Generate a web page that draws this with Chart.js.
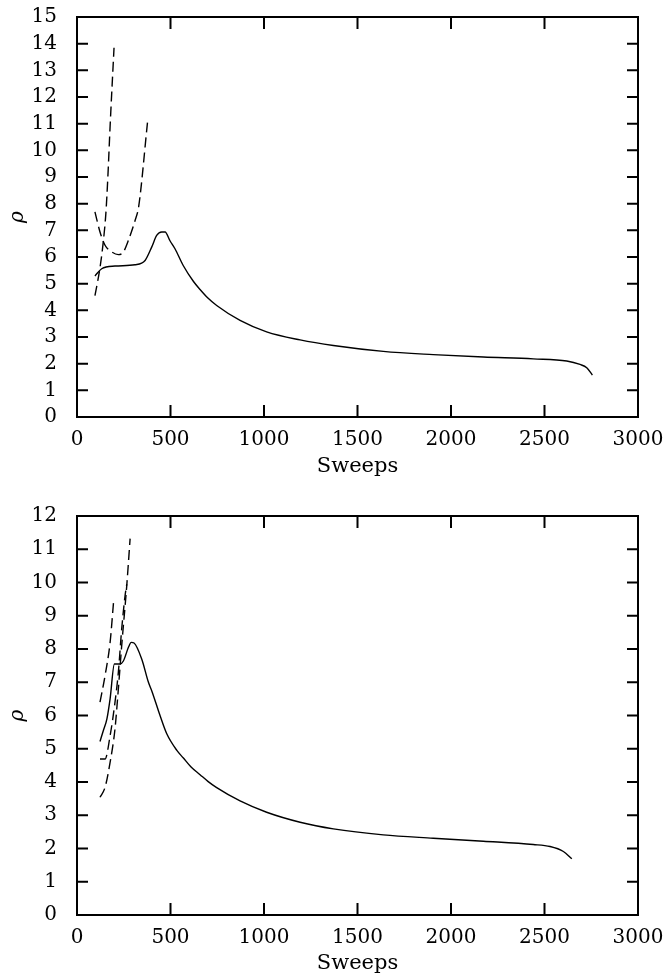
<!DOCTYPE html>
<html>
<head>
<meta charset="utf-8">
<script src="https://cdn.jsdelivr.net/npm/chart.js@4"></script>
<style>
  body { margin: 0; background: #fff; }
  canvas { display: block; }
</style>
</head>
<body>
<canvas id="top" width="668" height="488"></canvas>
<canvas id="bottom" width="668" height="489"></canvas>
<script>
// -------------------------
// Data
// -------------------------

// ticks
const sweepTicks = [0, 500, 1000, 1500, 2000, 2500, 3000];
const rhoTicksTop = [0, 1, 2, 3, 4, 5, 6, 7, 8, 9, 10, 11, 12, 13, 14, 15];
const rhoTicksBottom = [0, 1, 2, 3, 4, 5, 6, 7, 8, 9, 10, 11, 12];

// top panel, solid line
const topSolidSweeps = [96, 132, 203, 310, 364, 400, 426, 453, 471, 498, 524, 568, 623, 658, 700, 747, 872, 1014, 1193, 1371, 1638, 1905, 2173, 2440, 2619, 2690, 2726, 2756];
const topSolidRho = [5.29, 5.56, 5.66, 5.71, 5.87, 6.38, 6.81, 6.94, 6.94, 6.6, 6.31, 5.68, 5.08, 4.78, 4.46, 4.18, 3.62, 3.19, 2.89, 2.68, 2.46, 2.34, 2.25, 2.18, 2.1, 1.97, 1.85, 1.57];

// top panel, dashed lines
const topDashASweeps = [96, 123, 141, 154, 165, 177, 198];
const topDashARho = [4.55, 5.6, 6.6, 7.6, 9.0, 10.9, 13.85];
const topDashBSweeps = [96, 123, 150, 186, 221, 248, 275, 311, 330, 377];
const topDashBRho = [7.69, 6.94, 6.44, 6.19, 6.09, 6.19, 6.63, 7.38, 7.9, 11.05];

// bottom panel, solid line
const botSolidSweeps = [123, 141, 160, 177, 200, 230, 248, 275, 290, 305, 346, 382, 400, 444, 480, 534, 569, 610, 658, 700, 747, 872, 1014, 1193, 1371, 1638, 1905, 2173, 2440, 2530, 2601, 2646];
const botSolidRho = [5.22, 5.55, 5.9, 6.5, 7.55, 7.55, 7.64, 8.05, 8.2, 8.18, 7.7, 7.0, 6.74, 6.0, 5.45, 4.95, 4.72, 4.45, 4.22, 4.02, 3.83, 3.43, 3.09, 2.79, 2.59, 2.41, 2.31, 2.22, 2.12, 2.06, 1.91, 1.69];

// bottom panel, dashed lines
const botDashCSweeps = [123, 150, 177, 196];
const botDashCRho = [6.4, 7.2, 8.2, 9.45];
const botDashDSweeps = [123, 150, 177, 203, 221, 239, 257, 266];
const botDashDRho = [4.69, 4.69, 5.39, 6.39, 7.29, 8.6, 9.6, 9.95];
const botDashESweeps = [123, 150, 177, 203, 221, 239, 266, 284];
const botDashERho = [3.54, 3.84, 4.59, 5.59, 6.79, 8.1, 9.9, 11.32];

// -------------------------

const toPoints = (xs, ys) => xs.map((x, i) => ({ x: x, y: ys[i] }));

function line(xs, ys, dashed) {
  return {
    data: toPoints(xs, ys),
    showLine: true,
    borderColor: "#000",
    borderWidth: 1.4,
    borderDash: dashed ? [10, 5] : [],
    pointRadius: 0,
    cubicInterpolationMode: "monotone",
    fill: false,
  };
}

// ticks inside the frame on all four sides, plus the frame
const frameTicks = {
  id: "frameTicks",
  afterDraw(chart) {
    const { ctx, chartArea: a, scales } = chart;
    ctx.save();
    ctx.strokeStyle = "#000";
    ctx.lineWidth = 2;
    ctx.strokeRect(a.left, a.top, a.right - a.left, a.bottom - a.top);
    ctx.beginPath();
    scales.x.ticks.forEach((t) => {
      const px = scales.x.getPixelForValue(t.value);
      ctx.moveTo(px, a.bottom); ctx.lineTo(px, a.bottom - 12);
      ctx.moveTo(px, a.top); ctx.lineTo(px, a.top + 12);
    });
    scales.y.ticks.forEach((t) => {
      const py = scales.y.getPixelForValue(t.value);
      ctx.moveTo(a.left, py); ctx.lineTo(a.left + 11, py);
      ctx.moveTo(a.right, py); ctx.lineTo(a.right - 11, py);
    });
    ctx.stroke();
    ctx.restore();
  },
};

// layout padding alone decides where the plot box sits
function noScalePadding(s) {
  s.paddingTop = 0;
  s.paddingBottom = 0;
  s.paddingLeft = 0;
  s.paddingRight = 0;
}

function makeChart(id, datasets, yTicks, padTop, xHeight, titleBottom) {
  const ctx = document.getElementById(id).getContext("2d");
  return new Chart(ctx, {
    type: "scatter",
    data: { datasets: datasets },
    plugins: [frameTicks],
    options: {
      responsive: false,
      animation: false,
      layout: { padding: { left: 0, right: 30, top: padTop, bottom: 0 } },
      plugins: { legend: { display: false }, tooltip: { enabled: false } },
      scales: {
        x: {
          type: "linear",
          min: 0,
          max: 3000,
          afterBuildTicks: (s) => { s.ticks = sweepTicks.map((v) => ({ value: v })); },
          afterFit: (s) => { s.height = xHeight; noScalePadding(s); },
          grid: { display: false, drawTicks: false },
          border: { display: false },
          ticks: {
            color: "#000",
            padding: 11,
            maxRotation: 0,
            autoSkip: false,
            callback: (v) => String(v),
            font: { family: "DejaVu Serif", size: 20 },
          },
          title: {
            display: true,
            text: "Sweeps",
            color: "#000",
            padding: { top: 0, bottom: titleBottom },
            font: { family: "DejaVu Serif", size: 21 },
          },
        },
        y: {
          type: "linear",
          min: 0,
          max: yTicks[yTicks.length - 1],
          afterBuildTicks: (s) => { s.ticks = yTicks.map((v) => ({ value: v })); },
          afterFit: (s) => { s.width = 77; noScalePadding(s); },
          grid: { display: false, drawTicks: false },
          border: { display: false },
          ticks: {
            color: "#000",
            padding: 20,
            autoSkip: false,
            callback: (v) => String(v),
            font: { family: "DejaVu Serif", size: 20 },
          },
          title: {
            display: true,
            text: "ρ",
            color: "#000",
            padding: { top: 6, bottom: 0 },
            font: { family: "DejaVu Serif", size: 20, style: "italic" },
          },
        },
      },
    },
  });
}

makeChart("top", [
  line(topSolidSweeps, topSolidRho, false),
  line(topDashASweeps, topDashARho, true),
  line(topDashBSweeps, topDashBRho, true),
], rhoTicksTop, 17, 71, 9);

makeChart("bottom", [
  line(botSolidSweeps, botSolidRho, false),
  line(botDashCSweeps, botDashCRho, true),
  line(botDashDSweeps, botDashDRho, true),
  line(botDashESweeps, botDashERho, true),
], rhoTicksBottom, 28, 62, 1);
</script>
</body>
</html>
